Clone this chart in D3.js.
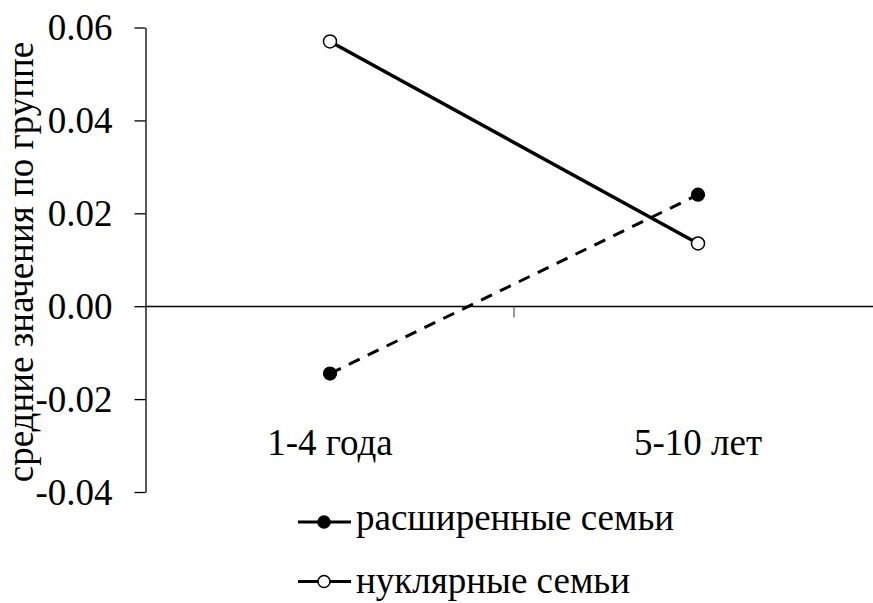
<!DOCTYPE html>
<html><head><meta charset="utf-8">
<script src="https://cdn.jsdelivr.net/npm/d3@7"></script>
<style>body{margin:0;background:#fff}svg{display:block}</style>
</head><body><svg id="c" width="873" height="603" font-family="Liberation Serif"></svg>
<script>
const categories = ["1-4 года", "5-10 лет"];
const extended = [-0.0145, 0.024];
const nuclear = [0.057, 0.0135];
const seriesNames = ["расширенные семьи", "нуклярные семьи"];
const yTicks = [-0.04, -0.02, 0.00, 0.02, 0.04, 0.06];
const yTitle = "средние значения по группе";

const FONT = "Liberation Serif";
const FS = 37;
const svg = d3.select("#c");
const x = d3.scalePoint().domain(categories).range([330, 698]);
const y = d3.scaleLinear().domain([-0.04, 0.06]).range([492, 27.5]);
const axisX = 145.5;

const fmt = d3.format(".2f");
const ya = svg.append("g").attr("transform", `translate(${axisX},0)`)
  .call(d3.axisLeft(y).tickValues(yTicks).tickFormat(d => fmt(d).replace("\u2212", "-")).tickSize(11).tickSizeOuter(0));
ya.attr("font-family", FONT).attr("font-size", FS);
ya.select(".domain").attr("stroke", "#000").attr("stroke-width", 1.3);
ya.selectAll(".tick line").attr("stroke", "#000").attr("stroke-width", 1.3);
ya.selectAll(".tick text").attr("font-family", FONT).attr("font-size", FS).attr("fill", "#000")
  .attr("x", -33).attr("dy", "0.33em");

const y0 = Math.round(y(0)) + 0.5;
svg.append("line").attr("x1", axisX).attr("x2", 873).attr("y1", y0).attr("y2", y0)
  .attr("stroke", "#000").attr("stroke-width", 1.5);
const step = x(categories[1]) - x(categories[0]);
svg.append("line").attr("x1", x(categories[0]) + step / 2).attr("x2", x(categories[0]) + step / 2)
  .attr("y1", y0).attr("y2", y0 + 11).attr("stroke", "#555").attr("stroke-width", 1.2);

svg.selectAll(".cat").data(categories).enter().append("text")
  .attr("x", d => x(d)).attr("y", 455).attr("text-anchor", "middle")
  .attr("font-family", FONT).attr("font-size", FS).text(d => d);

svg.append("text").attr("transform", `translate(33,262) rotate(-90)`).attr("text-anchor", "middle")
  .attr("font-family", FONT).attr("font-size", FS).text(yTitle);

const line = d3.line().x((d, i) => x(categories[i])).y(d => y(d));
svg.append("path").datum(extended).attr("d", line).attr("fill", "none").attr("stroke", "#000")
  .attr("stroke-width", 3).attr("stroke-dasharray", "12,9");
svg.append("path").datum(nuclear).attr("d", line).attr("fill", "none").attr("stroke", "#000")
  .attr("stroke-width", 3.5);

svg.selectAll(".pe").data(extended).enter().append("circle")
  .attr("cx", (d, i) => x(categories[i])).attr("cy", d => y(d)).attr("r", 6.5)
  .attr("fill", "#000").attr("stroke", "#000").attr("stroke-width", 1.2);
svg.selectAll(".pn").data(nuclear).enter().append("circle")
  .attr("cx", (d, i) => x(categories[i])).attr("cy", d => y(d)).attr("r", 6.5)
  .attr("fill", "#fff").attr("stroke", "#000").attr("stroke-width", 1.5);

const leg = [{name: seriesNames[0], fill: "#000", y: 522, base: 530}, {name: seriesNames[1], fill: "#fff", y: 581.5, base: 593}];
leg.forEach(l => {
  svg.append("line").attr("x1", 298).attr("x2", 351).attr("y1", l.y).attr("y2", l.y)
    .attr("stroke", "#000").attr("stroke-width", 3);
  svg.append("circle").attr("cx", 324).attr("cy", l.y).attr("r", 6).attr("fill", l.fill)
    .attr("stroke", "#000").attr("stroke-width", 1.5);
  svg.append("text").attr("x", 356).attr("y", l.base)
    .attr("font-family", FONT).attr("font-size", FS).text(l.name);
});
</script></body></html>
